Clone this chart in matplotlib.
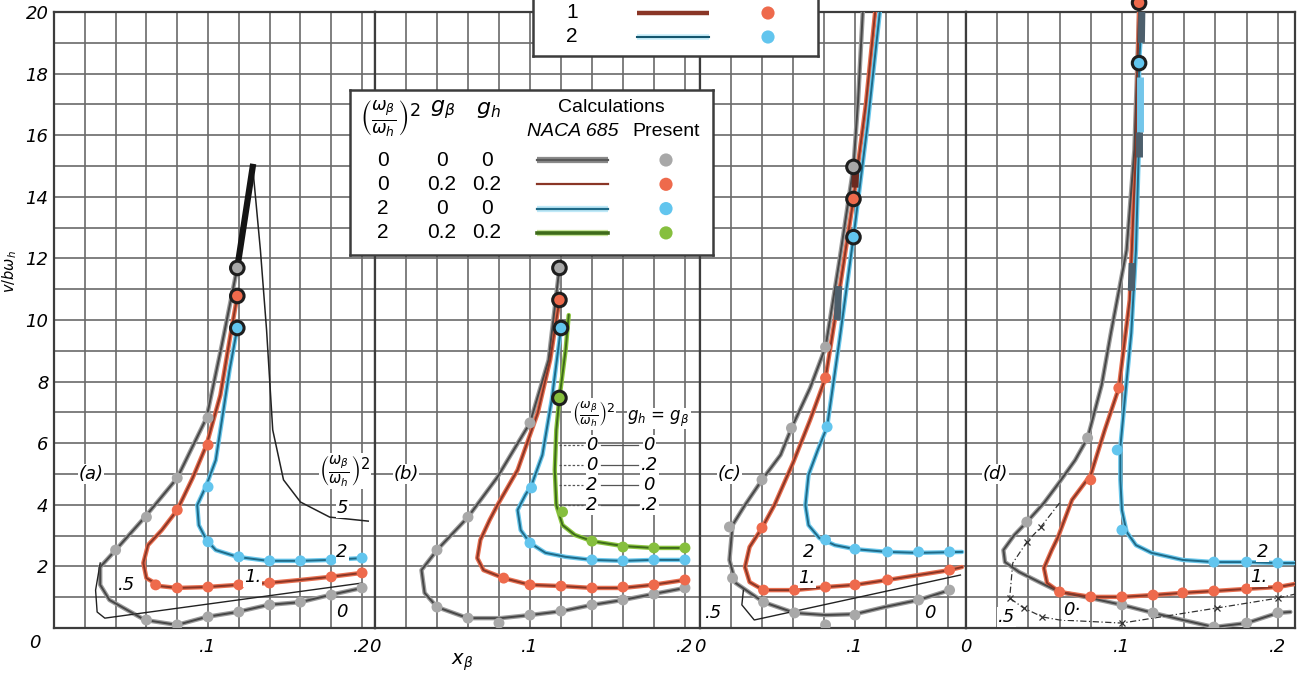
import numpy as np
import matplotlib

matplotlib.use("Agg")
import matplotlib.pyplot as plt  # noqa: E402

W, H = 1302, 678
GRID = "#6a6a6a"
FRAME = "#3c3c3c"
GRAY_DOT, RED_DOT, BLUE_DOT, GREEN_DOT = "#A8A8A8", "#EE6A4C", "#62C5EE", "#86BF3E"
GRAY_LN, BROWN_LN, TEAL_LN, GREEN_LN = "#474747", "#8A3626", "#1E6A88", "#3E6B1A"
GRAY_BAND, RED_BAND, BLUE_BAND, GREEN_BAND = "#9C9C9C", "#E86F50", "#6CC8EC", "#8CC63F"
HAND = {"family": "DejaVu Sans", "style": "italic"}

# ---- panel (a) ----------------------------------------------------------
A_GRAY_X = [0.200, 0.179, 0.160, 0.139, 0.119, 0.099, 0.080, 0.059, 0.036, 0.030,
            0.030, 0.040, 0.059, 0.080, 0.099, 0.109, 0.119, 0.129]
A_GRAY_Y = [1.30, 1.07, 0.84, 0.75, 0.52, 0.36, 0.10, 0.26, 0.91, 1.40,
            1.98, 2.53, 3.60, 4.87, 6.82, 9.20, 11.70, 14.97]
A_GRAY_DOTS_X = [0.200, 0.180, 0.160, 0.140, 0.120, 0.100, 0.080, 0.060, 0.040, 0.060, 0.080, 0.100]
A_GRAY_DOTS_Y = [1.30, 1.07, 0.84, 0.75, 0.52, 0.36, 0.10, 0.26, 2.53, 3.60, 4.87, 6.82]
A_RED_X = [0.200, 0.179, 0.160, 0.139, 0.119, 0.099, 0.080, 0.069, 0.060, 0.058,
           0.061, 0.070, 0.080, 0.090, 0.099, 0.108, 0.114, 0.119]
A_RED_Y = [1.79, 1.66, 1.56, 1.46, 1.40, 1.33, 1.30, 1.36, 1.62, 2.11,
           2.69, 3.18, 3.83, 4.87, 5.94, 7.56, 9.35, 10.78]
A_RED_DOTS_X = [0.200, 0.180, 0.140, 0.120, 0.100, 0.080, 0.066, 0.080, 0.100]
A_RED_DOTS_Y = [1.79, 1.66, 1.46, 1.40, 1.33, 1.30, 1.40, 3.83, 5.94]
A_BLUE_X = [0.200, 0.179, 0.160, 0.139, 0.119, 0.105, 0.099, 0.094, 0.093, 0.099,
            0.105, 0.109, 0.114, 0.119]
A_BLUE_Y = [2.27, 2.21, 2.18, 2.18, 2.31, 2.53, 2.86, 3.34, 3.99, 4.64,
            5.45, 6.75, 8.38, 9.74]
A_BLUE_DOTS_X = [0.200, 0.180, 0.160, 0.140, 0.120, 0.100, 0.100]
A_BLUE_DOTS_Y = [2.27, 2.21, 2.18, 2.18, 2.31, 2.80, 4.58]
A_FIVE_X = [0.129, 0.134, 0.138, 0.142, 0.149, 0.160, 0.179, 0.204]
A_FIVE_Y = [14.97, 12.27, 9.68, 6.43, 4.81, 4.09, 3.60, 3.47]
A_HALF_X = [0.030, 0.027, 0.028, 0.033, 0.200]
A_HALF_Y = [2.11, 1.23, 0.52, 0.32, 1.46]
A_RING_X = [0.119, 0.119, 0.119]
A_RING_Y = [11.69, 10.78, 9.74]

# ---- panel (b) ----------------------------------------------------------
B_GRAY_X = [0.200, 0.179, 0.160, 0.140, 0.121, 0.100, 0.081, 0.060, 0.040, 0.032,
            0.030, 0.040, 0.060, 0.079, 0.100, 0.112, 0.119]
B_GRAY_Y = [1.30, 1.10, 0.91, 0.75, 0.55, 0.42, 0.32, 0.32, 0.68, 1.14,
            1.88, 2.53, 3.60, 4.90, 6.66, 8.70, 11.69]
B_GRAY_DOTS_X = [0.200, 0.180, 0.160, 0.140, 0.120, 0.100, 0.080, 0.060, 0.040, 0.040, 0.060, 0.100]
B_GRAY_DOTS_Y = [1.30, 1.10, 0.91, 0.75, 0.55, 0.42, 0.16, 0.32, 0.68, 2.53, 3.60, 6.66]
B_RED_X = [0.200, 0.179, 0.160, 0.140, 0.121, 0.100, 0.083, 0.070, 0.066, 0.068,
           0.074, 0.079, 0.092, 0.105, 0.113, 0.119]
B_RED_Y = [1.56, 1.40, 1.30, 1.30, 1.36, 1.40, 1.62, 1.88, 2.27, 2.86,
           3.51, 3.99, 5.13, 6.98, 8.70, 10.65]
B_RED_DOTS_X = [0.200, 0.180, 0.160, 0.140, 0.120, 0.100, 0.083]
B_RED_DOTS_Y = [1.56, 1.40, 1.33, 1.30, 1.36, 1.40, 1.62]
B_BLUE_X = [0.200, 0.179, 0.160, 0.140, 0.123, 0.110, 0.100, 0.094, 0.092, 0.097,
            0.101, 0.108, 0.114, 0.120]
B_BLUE_Y = [2.21, 2.21, 2.18, 2.21, 2.31, 2.44, 2.76, 3.18, 3.83, 4.32,
            4.64, 5.62, 7.40, 9.74]
B_BLUE_DOTS_X = [0.200, 0.180, 0.160, 0.140, 0.100, 0.101]
B_BLUE_DOTS_Y = [2.21, 2.21, 2.18, 2.21, 2.76, 4.55]
B_GREEN_X = [0.200, 0.179, 0.160, 0.140, 0.129, 0.121, 0.117, 0.116, 0.117, 0.119, 0.123, 0.125]
B_GREEN_Y = [2.60, 2.60, 2.66, 2.82, 3.02, 3.34, 3.99, 5.13, 6.43, 7.47, 9.03, 10.16]
B_GREEN_DOTS_X = [0.200, 0.180, 0.160, 0.140, 0.121]
B_GREEN_DOTS_Y = [2.60, 2.60, 2.63, 2.82, 3.77]
B_RING_X = [0.119, 0.119, 0.120, 0.119]
B_RING_Y = [11.69, 10.65, 9.74, 7.47]

# ---- panel (c) ----------------------------------------------------------
C_GRAY_X = [0.161, 0.141, 0.119, 0.100, 0.081, 0.061, 0.041, 0.023, 0.019, 0.021,
            0.029, 0.040, 0.052, 0.059, 0.071, 0.081, 0.090, 0.099, 0.102, 0.105]
C_GRAY_Y = [1.23, 0.91, 0.68, 0.45, 0.42, 0.49, 0.84, 1.46, 2.21, 3.34,
            3.99, 4.81, 5.62, 6.49, 7.79, 9.12, 11.95, 14.97, 17.14, 20.0]
C_GRAY_DOTS_X = [0.161, 0.141, 0.100, 0.081, 0.061, 0.041, 0.021, 0.019, 0.040, 0.059, 0.081]
C_GRAY_DOTS_Y = [1.23, 0.91, 0.42, 0.10, 0.49, 0.84, 1.62, 3.28, 4.81, 6.49, 9.12]
C_RED_X = [0.169, 0.161, 0.141, 0.121, 0.100, 0.081, 0.061, 0.041, 0.032, 0.029,
           0.032, 0.040, 0.048, 0.060, 0.071, 0.081, 0.090, 0.099, 0.107, 0.113]
C_RED_Y = [1.98, 1.88, 1.72, 1.56, 1.40, 1.33, 1.23, 1.23, 1.49, 1.98,
           2.63, 3.25, 3.99, 5.36, 6.75, 8.12, 10.97, 13.93, 17.0, 20.0]
C_RED_DOTS_X = [0.161, 0.121, 0.100, 0.081, 0.061, 0.041, 0.040, 0.081]
C_RED_DOTS_Y = [1.88, 1.56, 1.40, 1.33, 1.23, 1.23, 3.25, 8.12]
C_BLUE_X = [0.169, 0.141, 0.121, 0.100, 0.087, 0.077, 0.070, 0.068, 0.070, 0.076,
            0.082, 0.090, 0.099, 0.108, 0.116]
C_BLUE_Y = [2.47, 2.44, 2.47, 2.56, 2.69, 2.92, 3.34, 3.99, 4.97, 5.78,
            6.53, 9.35, 12.69, 16.3, 20.0]
C_BLUE_DOTS_X = [0.161, 0.141, 0.121, 0.100, 0.081, 0.082]
C_BLUE_DOTS_Y = [2.47, 2.47, 2.47, 2.56, 2.86, 6.53]
C_HALF_X = [0.028, 0.027, 0.035, 0.168]
C_HALF_Y = [1.23, 0.75, 0.26, 1.72]
C_RING_X = [0.099, 0.099, 0.099]
C_RING_Y = [14.97, 13.93, 12.69]

# ---- panel (d) ----------------------------------------------------------
D_GRAY_X = [0.208, 0.200, 0.180, 0.159, 0.139, 0.120, 0.100, 0.080, 0.060, 0.047,
            0.034, 0.025, 0.024, 0.031, 0.039, 0.050, 0.060, 0.070, 0.078, 0.087,
            0.093, 0.103, 0.108, 0.111]
D_GRAY_Y = [0.52, 0.49, 0.16, 0.03, 0.26, 0.49, 0.75, 0.97, 1.17, 1.49,
            1.82, 2.14, 2.53, 3.02, 3.44, 4.06, 4.74, 5.45, 6.17, 7.89,
            9.60, 12.27, 15.52, 20.0]
D_GRAY_DOTS_X = [0.200, 0.180, 0.159, 0.120, 0.100, 0.039, 0.078]
D_GRAY_DOTS_Y = [0.49, 0.16, 0.03, 0.49, 0.75, 3.44, 6.17]
D_RED_X = [0.211, 0.200, 0.180, 0.159, 0.139, 0.120, 0.100, 0.080, 0.060, 0.052,
           0.050, 0.055, 0.059, 0.068, 0.080, 0.089, 0.098, 0.105, 0.109, 0.111]
D_RED_Y = [1.43, 1.33, 1.27, 1.20, 1.14, 1.07, 1.01, 1.01, 1.17, 1.46,
           1.95, 2.53, 2.95, 4.16, 4.97, 6.43, 7.79, 10.65, 15.52, 20.0]
D_RED_DOTS_X = [0.200, 0.180, 0.159, 0.139, 0.120, 0.100, 0.080, 0.060, 0.080, 0.098]
D_RED_DOTS_Y = [1.33, 1.27, 1.20, 1.14, 1.07, 1.01, 1.01, 1.17, 4.81, 7.79]
D_BLUE_X = [0.211, 0.200, 0.180, 0.159, 0.139, 0.119, 0.109, 0.103, 0.100, 0.099,
            0.099, 0.102, 0.106, 0.109, 0.111, 0.111, 0.113]
D_BLUE_Y = [2.11, 2.11, 2.14, 2.14, 2.21, 2.44, 2.69, 3.12, 3.83, 4.81,
            5.88, 7.50, 9.58, 12.27, 15.84, 18.34, 20.0]
D_BLUE_DOTS_X = [0.200, 0.180, 0.159, 0.100, 0.097]
D_BLUE_DOTS_Y = [2.11, 2.14, 2.14, 3.18, 5.78]
D_HALF_X = [0.060, 0.048, 0.039, 0.030, 0.028, 0.037, 0.049, 0.060, 0.100, 0.161, 0.200, 0.211]
D_HALF_Y = [4.06, 3.28, 2.79, 2.11, 0.97, 0.65, 0.36, 0.26, 0.16, 0.65, 0.97, 1.10]
D_RING_X = [0.111, 0.111]
D_RING_Y = [20.3, 18.34]

# thick calculation ticks drawn over the upper branches
C_MARK_X = [[0.1000, 0.1005], [0.0885, 0.0895]]
C_MARK_Y = [[14.3, 14.9], [10.0, 11.1]]
D_MARK_X = [[0.1125, 0.1128], [0.1115, 0.1115], [0.1112, 0.1112], [0.1060, 0.1065]]
D_MARK_Y = [[19.0, 20.0], [16.1, 17.9], [15.3, 16.1], [10.95, 11.85]]

# legend table
LEG_RATIO = ["0", "0", "2", "2"]
LEG_GB = ["0", "0.2", "0", "0.2"]
LEG_GH = ["0", "0.2", "0", "0.2"]
B_KEY_RATIO = ["0", "0", "2", "2"]
B_KEY_G = ["0", ".2", "0", ".2"]

# panel pixel extents (left, right) and x range
PANELS = [(54, 375, 0.2084), (375, 700, 0.2097), (700, 966, 0.1716), (966, 1295, 0.211)]
Y0_PX, Y20_PX = 628, 12


def curve(ax, x, y, band, line, wb=3.2, wl=1.4):
    if wb:
        ax.plot(x, y, color=band, lw=wb, solid_capstyle="round", zorder=3)
    ax.plot(x, y, color=line, lw=wl, zorder=4)


def dots(ax, x, y, c):
    ax.scatter(x, y, s=62, color=c, edgecolors="none", zorder=5)


def rings(ax, x, y, cols):
    ax.scatter(x, y, s=95, c=cols, edgecolors="#1e1e1e", linewidths=2.2, zorder=7, clip_on=False)


def tag(ax, x, y, s, size=13, **kw):
    ax.text(x, y, s, fontsize=size, ha="center", va="center", zorder=8,
            bbox=dict(fc="white", ec="none", pad=0.5), **HAND, **kw)


fig = plt.figure(figsize=(W / 100, H / 100), dpi=100)
axes = []
for l, r, xmax in PANELS:
    ax = fig.add_axes([l / W, 1 - Y0_PX / H, (r - l) / W, (Y0_PX - Y20_PX) / H])
    ax.set_xlim(0, xmax)
    ax.set_ylim(0, 20)
    ax.set_xticks(np.arange(0, xmax, 0.02), minor=True)
    ax.set_yticks(np.arange(0, 21, 1), minor=True)
    ax.grid(True, which="both", color=GRID, lw=1.2)
    ax.set_axisbelow(True)
    ax.tick_params(which="both", length=0, labelsize=13, pad=7)
    ax.tick_params(axis="y", pad=4)
    for s in ax.spines.values():
        s.set_color(FRAME)
        s.set_linewidth(1.6)
    axes.append(ax)
ax_a, ax_b, ax_c, ax_d = axes

ax_a.set_yticks(range(0, 21, 2))
ax_a.set_yticklabels([""] + [str(v) for v in range(2, 21, 2)], **HAND)
ax_a.annotate("0", xy=(0, 0), xytext=(-14, -11), textcoords="offset points",
              fontsize=13, ha="center", va="center", **HAND)
for ax in (ax_b, ax_c, ax_d):
    ax.set_yticks(range(0, 21, 2))
    ax.set_yticklabels([])
ax_a.set_xticks([0.1, 0.2])
ax_a.set_xticklabels([".1", ".2"], **HAND)
ax_b.set_xticks([0, 0.1, 0.2])
ax_b.set_xticklabels(["0", ".1", ".2"], **HAND)
ax_c.set_xticks([0, 0.1])
ax_c.set_xticklabels(["0", ".1"], **HAND)
ax_d.set_xticks([0, 0.1, 0.2])
ax_d.set_xticklabels(["0", ".1", ".2"], **HAND)

# (a)
curve(ax_a, A_HALF_X, A_HALF_Y, None, "#222222", wb=0, wl=1.0)
curve(ax_a, A_FIVE_X, A_FIVE_Y, None, "#222222", wb=0, wl=1.1)
curve(ax_a, A_GRAY_X, A_GRAY_Y, GRAY_BAND, GRAY_LN)
ax_a.plot(A_GRAY_X[-2:], A_GRAY_Y[-2:], color="#141414", lw=4.5, zorder=4)
curve(ax_a, A_RED_X, A_RED_Y, RED_BAND, BROWN_LN)
curve(ax_a, A_BLUE_X, A_BLUE_Y, BLUE_BAND, TEAL_LN)
dots(ax_a, A_GRAY_DOTS_X, A_GRAY_DOTS_Y, GRAY_DOT)
dots(ax_a, A_RED_DOTS_X, A_RED_DOTS_Y, RED_DOT)
dots(ax_a, A_BLUE_DOTS_X, A_BLUE_DOTS_Y, BLUE_DOT)
rings(ax_a, A_RING_X, A_RING_Y, [GRAY_DOT, RED_DOT, BLUE_DOT])
tag(ax_a, 0.024, 5.0, "(a)")
tag(ax_a, 0.189, 5.1, r"$\left(\frac{\omega_\beta}{\omega_h}\right)^2$", size=15)
tag(ax_a, 0.187, 3.90, "5")
tag(ax_a, 0.187, 2.47, "2")
tag(ax_a, 0.129, 1.66, "1.")
tag(ax_a, 0.047, 1.40, ".5")
tag(ax_a, 0.187, 0.52, "0")

# (b)
curve(ax_b, B_GRAY_X, B_GRAY_Y, GRAY_BAND, GRAY_LN)
curve(ax_b, B_RED_X, B_RED_Y, RED_BAND, BROWN_LN)
curve(ax_b, B_BLUE_X, B_BLUE_Y, BLUE_BAND, TEAL_LN)
curve(ax_b, B_GREEN_X, B_GREEN_Y, GREEN_BAND, GREEN_LN)
dots(ax_b, B_GRAY_DOTS_X, B_GRAY_DOTS_Y, GRAY_DOT)
dots(ax_b, B_RED_DOTS_X, B_RED_DOTS_Y, RED_DOT)
dots(ax_b, B_BLUE_DOTS_X, B_BLUE_DOTS_Y, BLUE_DOT)
dots(ax_b, B_GREEN_DOTS_X, B_GREEN_DOTS_Y, GREEN_DOT)
rings(ax_b, B_RING_X, B_RING_Y, [GRAY_DOT, RED_DOT, BLUE_DOT, GREEN_DOT])
tag(ax_b, 0.020, 5.0, "(b)")
tag(ax_b, 0.141, 6.95, r"$\left(\frac{\omega_\beta}{\omega_h}\right)^2$", size=13)
tag(ax_b, 0.183, 6.80, r"$g_h$ = $g_\beta$", size=12)
for i, (r_, g_) in enumerate(zip(B_KEY_RATIO, B_KEY_G)):
    yy = 5.94 - 0.65 * i
    ax_b.plot([0.119, 0.134], [yy, yy], color="#555555", lw=0.9, ls=(0, (2, 1.5)), zorder=6)
    ax_b.plot([0.146, 0.170], [yy, yy], color="#555555", lw=0.9, zorder=6)
    tag(ax_b, 0.140, yy, r_, size=13)
    tag(ax_b, 0.177, yy, g_, size=13)

# (c)
curve(ax_c, C_HALF_X, C_HALF_Y, None, "#222222", wb=0, wl=1.0)
curve(ax_c, C_GRAY_X, C_GRAY_Y, GRAY_BAND, GRAY_LN)
curve(ax_c, C_RED_X, C_RED_Y, RED_BAND, BROWN_LN)
curve(ax_c, C_BLUE_X, C_BLUE_Y, BLUE_BAND, TEAL_LN)
for mx, my, mc in zip(C_MARK_X, C_MARK_Y, ["#6b2a20", "#4d5f6c"]):
    ax_c.plot(mx, my, color=mc, lw=5, solid_capstyle="butt", zorder=6)
dots(ax_c, C_GRAY_DOTS_X, C_GRAY_DOTS_Y, GRAY_DOT)
dots(ax_c, C_RED_DOTS_X, C_RED_DOTS_Y, RED_DOT)
dots(ax_c, C_BLUE_DOTS_X, C_BLUE_DOTS_Y, BLUE_DOT)
rings(ax_c, C_RING_X, C_RING_Y, [GRAY_DOT, RED_DOT, BLUE_DOT])
tag(ax_c, 0.019, 5.0, "(c)")
tag(ax_c, 0.070, 2.47, "2")
tag(ax_c, 0.069, 1.62, "1.")
tag(ax_c, 0.009, 0.49, ".5")
tag(ax_c, 0.148, 0.49, "0")

# (d)
ax_d.plot(D_HALF_X, D_HALF_Y, color="#333333", lw=0.9, ls=(0, (5, 2, 1, 2)),
          marker="x", ms=4, mew=0.9, markevery=[1, 2, 4, 5, 6, 8, 9, 10], zorder=4)
curve(ax_d, D_GRAY_X, D_GRAY_Y, GRAY_BAND, GRAY_LN)
curve(ax_d, D_RED_X, D_RED_Y, RED_BAND, BROWN_LN)
curve(ax_d, D_BLUE_X, D_BLUE_Y, BLUE_BAND, TEAL_LN)
for mx, my, mc in zip(D_MARK_X, D_MARK_Y, ["#4d5f6c", "#74c6ea", "#4d5f6c", "#4d5f6c"]):
    ax_d.plot(mx, my, color=mc, lw=5, solid_capstyle="butt", zorder=6)
dots(ax_d, D_GRAY_DOTS_X, D_GRAY_DOTS_Y, GRAY_DOT)
dots(ax_d, D_RED_DOTS_X, D_RED_DOTS_Y, RED_DOT)
dots(ax_d, D_BLUE_DOTS_X, D_BLUE_DOTS_Y, BLUE_DOT)
rings(ax_d, D_RING_X, D_RING_Y, [RED_DOT, BLUE_DOT])
tag(ax_d, 0.019, 5.0, "(d)")
tag(ax_d, 0.190, 2.47, "2")
tag(ax_d, 0.188, 1.66, "1.")
tag(ax_d, 0.068, 0.58, "0·")
tag(ax_d, 0.026, 0.36, ".5")

# axis titles
fig.text(462 / W, 1 - 662 / H, r"$x_\beta$", fontsize=14, ha="center", va="center")
fig.text(10 / W, 1 - 272 / H, r"$v/b\omega_h$", fontsize=10.5, rotation=90,
         ha="center", va="center")

# key table
leg = fig.add_axes([350 / W, 1 - 255 / H, 363 / W, 165 / H], zorder=10)
leg.set_xlim(350, 713)
leg.set_ylim(255, 90)
leg.set_xticks([])
leg.set_yticks([])
for s in leg.spines.values():
    s.set_color(FRAME)
    s.set_linewidth(1.8)
SANS = {"family": "Liberation Sans"}
leg.text(390, 118, r"$\left(\frac{\omega_\beta}{\omega_h}\right)^2$", fontsize=18,
         ha="center", va="center")
leg.text(443, 110, r"$g_\beta$", fontsize=16, ha="center", va="center")
leg.text(488, 110, r"$g_h$", fontsize=16, ha="center", va="center")
leg.text(611, 107, "Calculations", fontsize=14, ha="center", va="center", **SANS)
leg.text(573, 131, "NACA 685", fontsize=14, ha="center", va="center", style="italic", **SANS)
leg.text(666, 131, "Present", fontsize=14, ha="center", va="center", **SANS)
row_lines = [("#8a8a8a", "#5a5a5a"), ("#ffffff", BROWN_LN), ("#bfe9f8", TEAL_LN),
             ("#c9e79a", GREEN_LN)]
row_dots = [GRAY_DOT, RED_DOT, BLUE_DOT, GREEN_DOT]
for i, (r_, gb, gh) in enumerate(zip(LEG_RATIO, LEG_GB, LEG_GH)):
    yy = 160 + 24.3 * i
    leg.text(383, yy, r_, fontsize=15, ha="center", va="center", **SANS)
    leg.text(442, yy, gb, fontsize=15, ha="center", va="center", **SANS)
    leg.text(487, yy, gh, fontsize=15, ha="center", va="center", **SANS)
    halo, core = row_lines[i]
    leg.plot([537, 608], [yy, yy], color=halo, lw=4.5, solid_capstyle="butt")
    leg.plot([537, 608], [yy, yy], color=core, lw=1.6 if i != 3 else 2.6)
    leg.scatter([666], [yy], s=90, color=row_dots[i], edgecolors="none")

# case key at the top
top = fig.add_axes([533 / W, 1 - 56 / H, 285 / W, 90 / H], zorder=10)
top.set_xlim(533, 818)
top.set_ylim(56, -34)
top.set_xticks([])
top.set_yticks([])
for s in top.spines.values():
    s.set_color(FRAME)
    s.set_linewidth(1.8)
top.text(572, 13, "1", fontsize=15, ha="center", va="center", **SANS)
top.text(572, 37, "2", fontsize=15, ha="center", va="center", **SANS)
top.plot([637, 709], [13, 13], color=BROWN_LN, lw=3.2, solid_capstyle="butt")
top.plot([637, 709], [37, 37], color="#c8eefa", lw=4.0, solid_capstyle="butt")
top.plot([637, 709], [37, 37], color="#14566e", lw=1.5)
top.scatter([768, 768], [13, 37], s=90, c=[RED_DOT, BLUE_DOT], edgecolors="none")

fig.savefig("out.png", dpi=100)
